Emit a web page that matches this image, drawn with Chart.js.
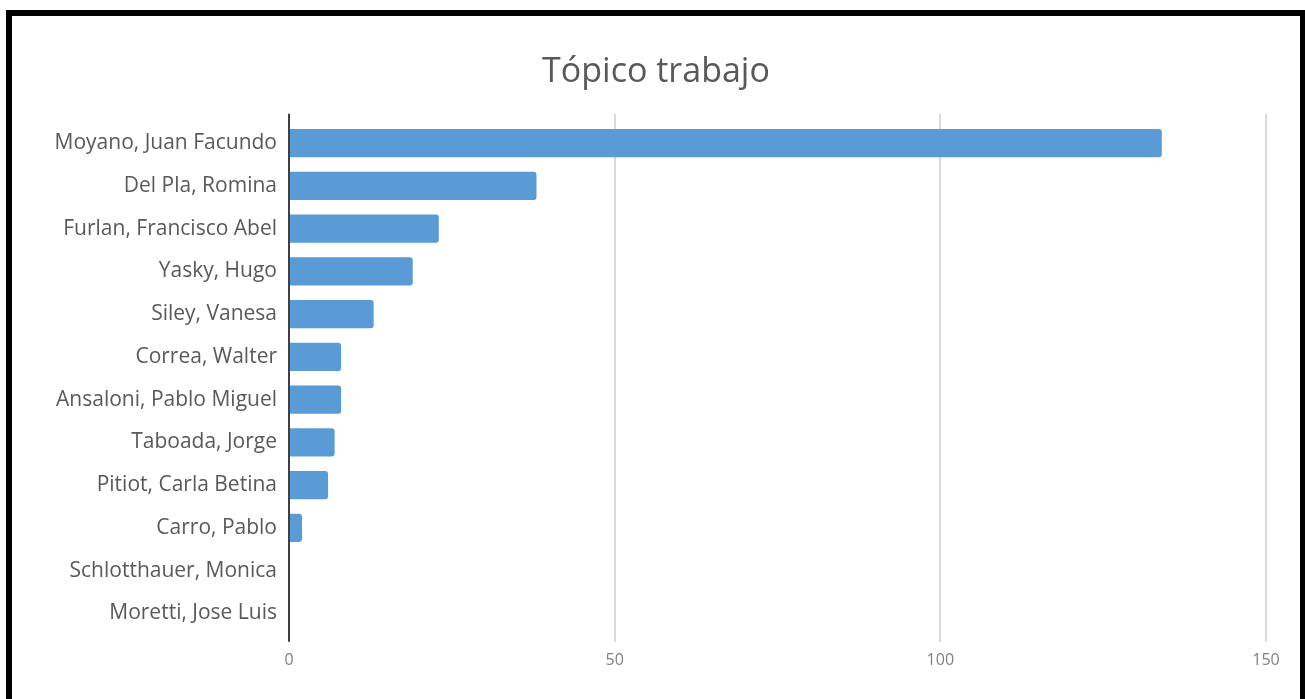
<!DOCTYPE html>
<html>
<head>
<meta charset="utf-8">
<script src="https://cdn.jsdelivr.net/npm/chart.js@4/dist/chart.umd.min.js"></script>
<style>
  html, body { margin: 0; padding: 0; background: #fff; overflow: hidden; }
  #frame {
    position: absolute; left: 6px; top: 10px;
    width: 1288px; height: 683px;
    border-left: 6px solid #000; border-top: 6px solid #000; border-right: 5px solid #000;
  }
  #wrap { position: relative; width: 1288px; height: 683px; }
</style>
</head>
<body>
<div id="frame"><div id="wrap"><canvas id="chart"></canvas></div></div>
<script>
// category labels, top to bottom
const names = [
  'Moyano, Juan Facundo',
  'Del Pla, Romina',
  'Furlan, Francisco Abel',
  'Yasky, Hugo',
  'Siley, Vanesa',
  'Correa, Walter',
  'Ansaloni, Pablo Miguel',
  'Taboada, Jorge',
  'Pitiot, Carla Betina',
  'Carro, Pablo',
  'Schlotthauer, Monica',
  'Moretti, Jose Luis',
];
const counts = [134, 38, 23, 19, 13, 8, 8, 7, 6, 2, 0, 0];
const xTicks = [0, 50, 100, 150];

const FONT = "'Open Sans', sans-serif";
const GRID = '#d9d9d9';
const AXIS = '#404040';

// zero line dark, the rest light gray
const gridColor = (ctx) => (ctx.tick && ctx.tick.value === 0 ? AXIS : GRID);

new Chart(document.getElementById('chart'), {
  type: 'bar',
  data: {
    labels: names,
    datasets: [{
      data: counts,
      backgroundColor: '#5b9bd5',
      borderWidth: 0,
      borderRadius: 3,
      borderSkipped: 'start',
      barPercentage: 0.66,
      categoryPercentage: 1,
    }],
  },
  options: {
    indexAxis: 'y',
    responsive: true,
    maintainAspectRatio: false,
    animation: false,
    // equal side padding keeps the title centred on the canvas
    layout: { padding: { left: 34, right: 34, top: 0, bottom: 20 } },
    plugins: {
      legend: { display: false },
      tooltip: { enabled: false },
      title: {
        display: true,
        text: 'Tópico trabajo',
        color: '#595959',
        font: { family: FONT, size: 34, weight: 'normal' },
        padding: { top: 36, bottom: 21 },
      },
    },
    scales: {
      x: {
        position: 'bottom',
        min: 0,
        max: 150,
        afterBuildTicks: (s) => { s.ticks = xTicks.map(v => ({ value: v })); },
        grid: { color: gridColor, lineWidth: 2, tickLength: 7, drawTicks: true },
        border: { display: false },
        ticks: {
          color: '#808080',
          font: { family: FONT, size: 16 },
          padding: 9,
        },
      },
      x2: {
        axis: 'x',
        position: 'top',
        min: 0,
        max: 150,
        afterBuildTicks: (s) => { s.ticks = xTicks.map(v => ({ value: v })); },
        grid: { color: gridColor, lineWidth: 2, tickLength: 8, drawTicks: true, drawOnChartArea: false },
        border: { display: false },
        ticks: { display: false },
      },
      y: {
        grid: { display: false, drawTicks: false },
        border: { display: true, color: AXIS, width: 2 },
        ticks: {
          color: '#595959',
          font: { family: FONT, size: 21 },
          padding: 12,
        },
        afterFit: (s) => { s.width = 243; },
      },
    },
  },
});
</script>
</body>
</html>
